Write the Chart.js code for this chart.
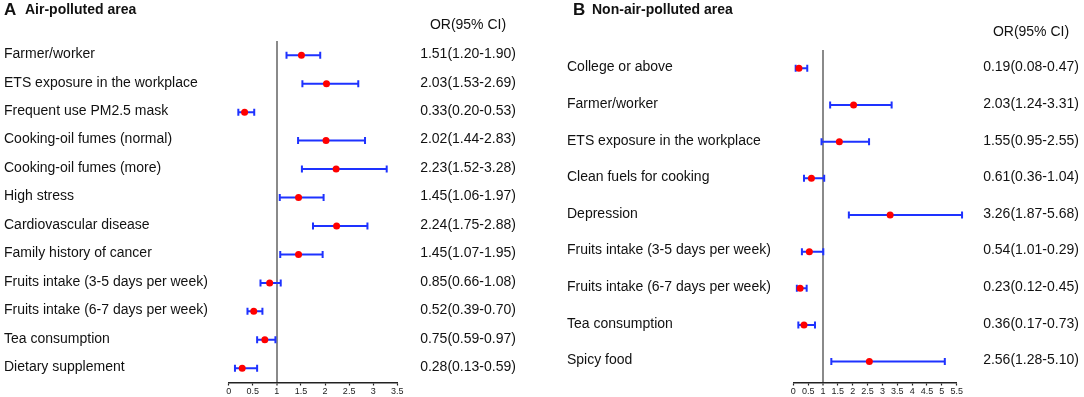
<!DOCTYPE html>
<html><head><meta charset="utf-8">
<script src="https://cdn.jsdelivr.net/npm/chart.js@4/dist/chart.umd.min.js"></script>
<style>
html,body{margin:0;padding:0;background:#fff;}
#wrap{position:relative;width:1084px;height:397px;}
#ca{position:absolute;left:0;top:0;}
#cb{position:absolute;left:545px;top:0;}
</style></head>
<body><div id="wrap"><canvas id="ca" width="545" height="397"></canvas><canvas id="cb" width="539" height="397"></canvas></div>
<script>
// Panel A: Air-polluted area
const labelsA = ["Farmer/worker","ETS exposure in the workplace","Frequent use PM2.5 mask","Cooking-oil fumes (normal)","Cooking-oil fumes (more)","High stress","Cardiovascular disease","Family history of cancer","Fruits intake (3-5 days per week)","Fruits intake (6-7 days per week)","Tea consumption","Dietary supplement"];
const orA = [1.51,2.03,0.33,2.02,2.23,1.45,2.24,1.45,0.85,0.52,0.75,0.28];
const loA = [1.20,1.53,0.20,1.44,1.52,1.06,1.75,1.07,0.66,0.39,0.59,0.13];
const hiA = [1.90,2.69,0.53,2.83,3.28,1.97,2.88,1.95,1.08,0.70,0.97,0.59];
// Panel B: Non-air-polluted area
const labelsB = ["College or above","Farmer/worker","ETS exposure in the workplace","Clean fuels for cooking","Depression","Fruits intake (3-5 days per week)","Fruits intake (6-7 days per week)","Tea consumption","Spicy food"];
const orB = [0.19,2.03,1.55,0.61,3.26,0.54,0.23,0.36,2.56];
const loB = [0.08,1.24,0.95,0.36,1.87,1.01,0.12,0.17,1.28];
const hiB = [0.47,3.31,2.55,1.04,5.68,0.29,0.45,0.73,5.10];
const ticksA = [0,0.5,1,1.5,2,2.5,3,3.5];
const ticksB = [0,0.5,1,1.5,2,2.5,3,3.5,4,4.5,5,5.5];

const FONT = '"Liberation Sans", Arial, Helvetica, sans-serif';
const f2 = v => v.toFixed(2);

function makeChart(id, cfg) {
  const n = cfg.labels.length;
  const forestPlugin = {
    id: 'forest',
    beforeDatasetsDraw(chart) {
      const ctx = chart.ctx, xs = chart.scales.x, ys = chart.scales.y;
      ctx.save();
      ctx.strokeStyle = '#1e32ff';
      ctx.lineWidth = 2;
      for (let i = 0; i < n; i++) {
        const a = Math.min(cfg.lo[i], cfg.hi[i]), b = Math.max(cfg.lo[i], cfg.hi[i]);
        const x1 = xs.getPixelForValue(a), x2 = xs.getPixelForValue(b), y = ys.getPixelForValue(i);
        ctx.beginPath();
        ctx.moveTo(x1, y); ctx.lineTo(x2, y);
        ctx.moveTo(x1, y - 3.5); ctx.lineTo(x1, y + 3.5);
        ctx.moveTo(x2, y - 3.5); ctx.lineTo(x2, y + 3.5);
        ctx.stroke();
      }
      ctx.restore();
    },
    afterDraw(chart) {
      const ctx = chart.ctx, ys = chart.scales.y;
      ctx.save();
      ctx.fillStyle = '#111';
      ctx.textBaseline = 'middle';
      // title
      ctx.textAlign = 'left';
      ctx.font = 'bold 17px ' + FONT;
      ctx.fillText(cfg.letter, cfg.letterX, 10);
      ctx.font = 'bold 14px ' + FONT;
      ctx.fillText(cfg.title, cfg.titleX, 10);
      // header
      ctx.font = '14px ' + FONT;
      ctx.textAlign = 'center';
      ctx.fillText('OR(95% CI)', cfg.orX, cfg.headerY);
      for (let i = 0; i < n; i++) {
        const y = ys.getPixelForValue(i) - 1;
        ctx.textAlign = 'left';
        ctx.fillText(cfg.labels[i], cfg.labelX, y);
        ctx.textAlign = 'center';
        ctx.fillText(f2(cfg.or[i]) + '(' + f2(cfg.lo[i]) + '-' + f2(cfg.hi[i]) + ')', cfg.orX, y);
      }
      ctx.restore();
    }
  };
  return new Chart(document.getElementById(id), {
    type: 'scatter',
    data: { datasets: [{ data: cfg.or.map((v, i) => ({ x: v, y: i })), backgroundColor: '#ff0000', borderWidth: 0, pointRadius: 3.5, pointHoverRadius: 3.5 }] },
    options: {
      responsive: false, animation: false, events: [],
      layout: { padding: { left: cfg.padL, right: cfg.padR, top: cfg.padT, bottom: 0 } },
      plugins: { legend: { display: false }, tooltip: { enabled: false } },
      scales: {
        x: {
          type: 'linear', min: 0, max: cfg.xmax,
          afterBuildTicks: s => { s.ticks = cfg.ticks.map(v => ({ value: v })); },
          afterFit: s => { s.height = cfg.axisH; },
          border: { display: true, color: '#222', width: 1.5 },
          grid: {
            drawOnChartArea: true, drawTicks: true, tickLength: 3,
            color: c => (c.tick && c.tick.value === 1) ? '#8a8a8a' : 'rgba(0,0,0,0)',
            lineWidth: c => (c.tick && c.tick.value === 1) ? 2 : 1,
            tickColor: '#222', tickWidth: 1.2
          },
          ticks: { autoSkip: false, maxRotation: 0, padding: 1, color: '#222', font: { size: 9, family: FONT },
                   callback: v => String(v) }
        },
        y: { type: 'linear', reverse: true, min: cfg.ymin, max: cfg.ymax, display: false }
      }
    },
    plugins: [forestPlugin]
  });
}

makeChart('ca', {
  labels: labelsA, or: orA, lo: loA, hi: hiA, ticks: ticksA, xmax: 3.5,
  padL: 228.7, padR: 545 - 397.3, padT: 41, axisH: 14.5,
  ymin: -0.5, ymax: 11.5,
  letter: 'A', letterX: 4, title: 'Air-polluted area', titleX: 25,
  orX: 468, headerY: 25, labelX: 4
});
makeChart('cb', {
  labels: labelsB, or: orB, lo: loB, hi: hiB, ticks: ticksB, xmax: 5.5,
  padL: 793.3 - 545, padR: 539 - (956.7 - 545), padT: 50, axisH: 14.5,
  ymin: -0.5, ymax: 8.57,
  letter: 'B', letterX: 28, title: 'Non-air-polluted area', titleX: 47,
  orX: 486, headerY: 32, labelX: 22
});
</script></body></html>
